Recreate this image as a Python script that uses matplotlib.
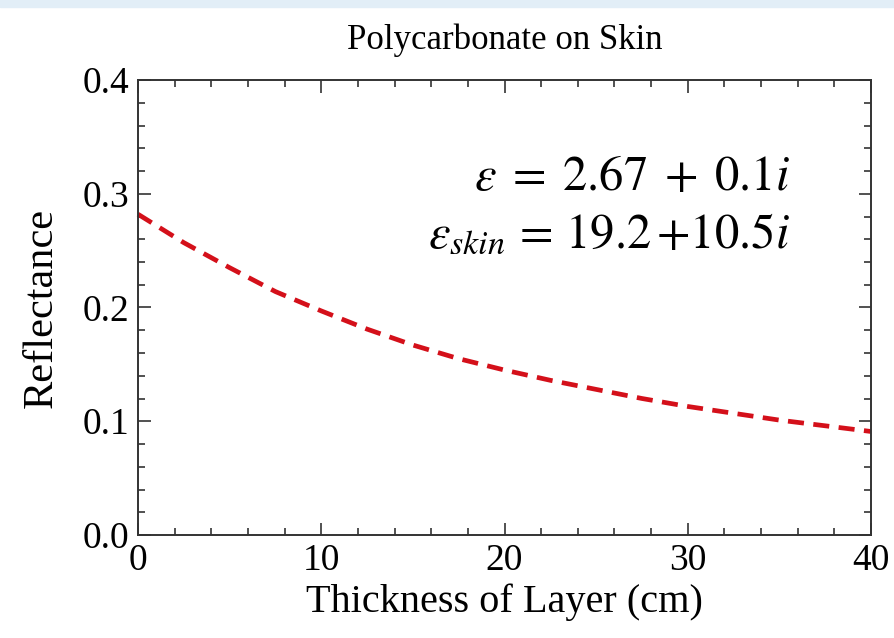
import numpy as np
import matplotlib.pyplot as plt
from matplotlib.ticker import MultipleLocator
from matplotlib.patches import Rectangle

# reflectance vs. layer thickness
thickness = [0, 2.5, 5, 7.5, 10, 12.5, 15, 17.5, 20, 22.5, 25, 27.5, 30, 32.5, 35, 37.5, 40]
reflectance = [0.282, 0.257, 0.235, 0.214, 0.197, 0.181, 0.167, 0.155, 0.145,
               0.136, 0.128, 0.120, 0.113, 0.107, 0.101, 0.096, 0.091]

eps_layer = r'$\varepsilon\; = \;2.67\; + \;0.1i$'
eps_skin = r'$\varepsilon_{skin}\,= \,19.2\,{+}10.5i$'

plt.rcParams['font.family'] = ['Liberation Serif', 'DejaVu Serif']
plt.rcParams['mathtext.fontset'] = 'stix'


def main():
    fig = plt.figure(figsize=(8.95, 6.38), dpi=100)
    fig.patches.append(Rectangle((0, 1 - 7 / 638), 1, 7 / 638, transform=fig.transFigure,
                                 color='#e2eef7', zorder=0))
    ax = fig.add_axes([138 / 895, 103 / 638, 733 / 895, 455 / 638])

    ax.plot(thickness, reflectance, color='#d4101a', lw=3.4, ls=(0, (3.4, 2.0)),
            dash_capstyle='butt', clip_on=False)

    ax.set_xlim(0, 40)
    ax.set_ylim(0, 0.4)
    ax.xaxis.set_major_locator(MultipleLocator(10))
    ax.xaxis.set_minor_locator(MultipleLocator(2))
    ax.yaxis.set_major_locator(MultipleLocator(0.1))
    ax.yaxis.set_minor_locator(MultipleLocator(0.02))
    ax.yaxis.set_major_formatter(plt.FormatStrFormatter('%.1f'))

    for s in ax.spines.values():
        s.set_color('#333333')
        s.set_linewidth(1.4)
    ax.tick_params(which='both', direction='in', top=True, right=True,
                   color='#333333', width=1.2, labelsize=27, pad=6)
    ax.tick_params(which='major', length=9)
    ax.tick_params(which='minor', length=5)

    ax.set_xlabel('Thickness of Layer (cm)', fontsize=29, labelpad=4)
    ax.set_ylabel('Reflectance', fontsize=30.5, labelpad=16)
    ax.set_title('Polycarbonate on Skin', fontsize=25, pad=22)

    ax.text(0.889, 0.758, eps_layer, transform=ax.transAxes, ha='right',
            va='baseline', fontsize=35)
    ax.text(0.889, 0.633, eps_skin, transform=ax.transAxes, ha='right',
            va='baseline', fontsize=35)

    fig.savefig('out.png', dpi=100)


if __name__ == "__main__":
    main()
